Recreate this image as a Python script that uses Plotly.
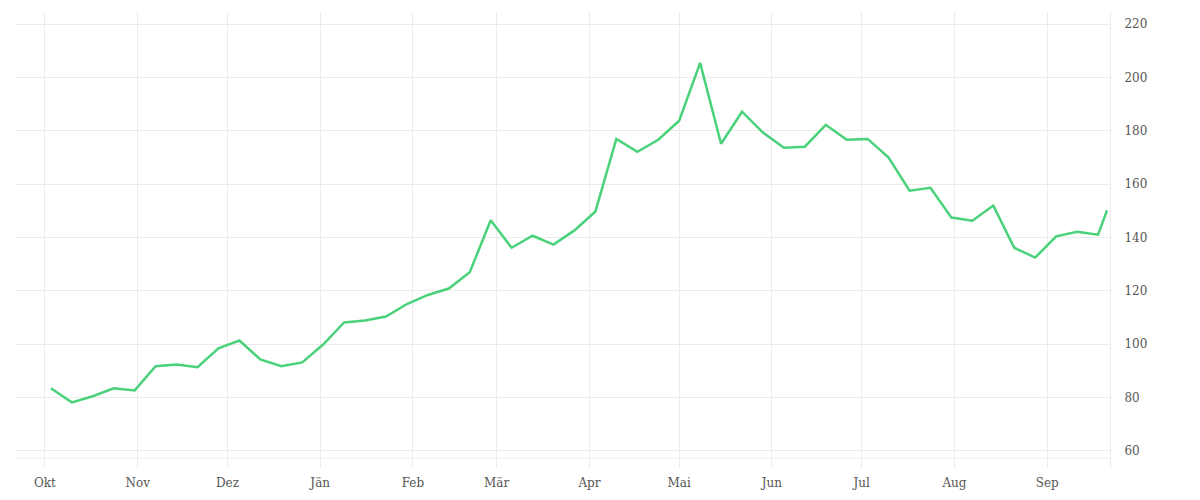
import plotly.graph_objects as go
import pandas as pd

# weekly dates (last point is a partial week)
dates = list(pd.date_range("2021-10-03", periods=51, freq="7D").strftime("%Y-%m-%d")) + ["2022-09-21"]
values = [
    83.4, 78.1, 80.4, 83.4, 82.6, 91.7, 92.3, 91.3, 98.4, 101.3,
    94.2, 91.7, 93.1, 99.8, 108.1, 108.8, 110.3, 115.0, 118.4, 120.8,
    126.9, 146.4, 136.1, 140.6, 137.3, 142.6, 149.7, 176.9, 172.1, 176.6,
    183.7, 205.4, 175.1, 187.1, 179.3, 173.6, 174.0, 182.2, 176.6, 176.9,
    169.9, 157.5, 158.6, 147.4, 146.2, 151.9, 136.1, 132.4, 140.4, 142.1,
    141.0, 150.1,
]
month_ticks = ["2021-10-01", "2021-11-01", "2021-12-01", "2022-01-01", "2022-02-01", "2022-03-01",
               "2022-04-01", "2022-05-01", "2022-06-01", "2022-07-01", "2022-08-01", "2022-09-01"]
month_labels = ["Okt", "Nov", "Dez", "Jän", "Feb", "Mär", "Apr", "Mai", "Jun", "Jul", "Aug", "Sep"]
y_ticks = [60, 80, 100, 120, 140, 160, 180, 200, 220]

grid = "#ebebeb"
font_color = "#555555"

fig = go.Figure()
fig.add_trace(go.Scatter(
    x=dates, y=values, mode="lines",
    line=dict(color="#4ad27a", width=2.5),
    hoverinfo="x+y", showlegend=False,
))

fig.update_layout(
    width=1200, height=500,
    margin=dict(l=7, r=98, t=4, b=40),
    paper_bgcolor="white", plot_bgcolor="white",
    font=dict(family="DejaVu Serif", size=12, color=font_color),
    xaxis=dict(
        type="date",
        range=["2021-09-21", "2022-09-22"],
        tickmode="array", tickvals=month_ticks, ticktext=month_labels,
        showgrid=True, gridcolor=grid, gridwidth=1,
        showline=False, zeroline=False, ticks="",
        ticklabelstandoff=6,
    ),
    yaxis=dict(
        side="right",
        range=[53.5, 224.5],
        tickmode="array", tickvals=y_ticks,
        showgrid=True, gridcolor=grid, gridwidth=1,
        showline=True, linecolor=grid, linewidth=1,
        zeroline=False, ticks="",
        ticklabelstandoff=11,
    ),
    shapes=[dict(type="line", xref="paper", yref="paper", x0=0, x1=1,
                 y0=10/456, y1=10/456, line=dict(color=grid, width=1), layer="below")],
)

fig.write_html("out.html")
